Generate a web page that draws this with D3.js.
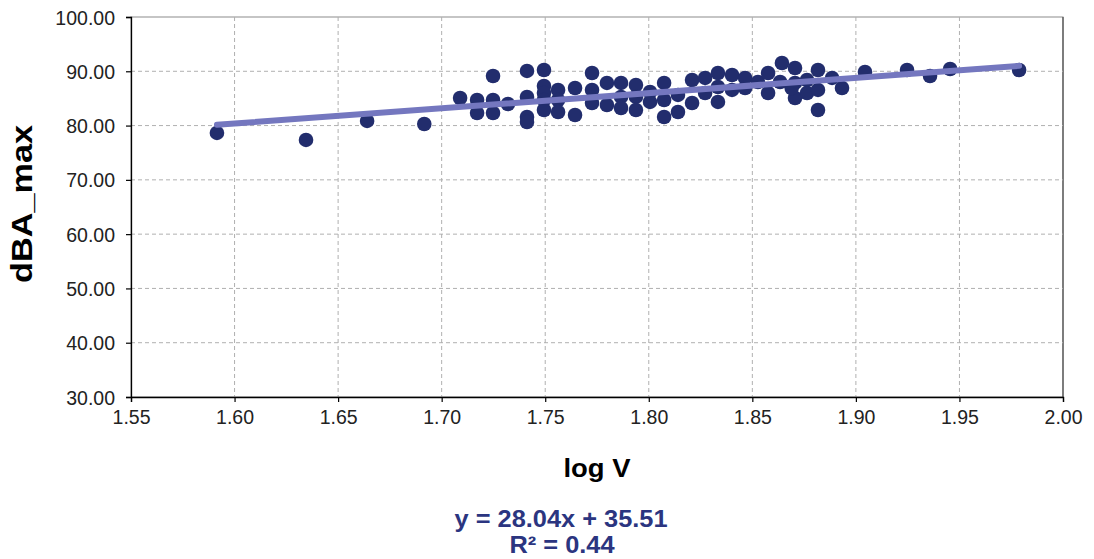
<!DOCTYPE html>
<html>
<head>
<meta charset="utf-8">
<script src="https://cdn.jsdelivr.net/npm/d3@7/dist/d3.min.js"></script>
<style>
  html, body { margin: 0; padding: 0; background: #fff; }
  svg { display: block; }
</style>
</head>
<body>
<svg id="chart" width="1094" height="559"></svg>
<script>
// ---- data ----
const logV = [
  1.5915, 1.6345, 1.6640, 1.6916, 1.7089, 1.7171, 1.7171, 1.7248, 1.7248, 1.7248,
  1.7320, 1.7412, 1.7412, 1.7412, 1.7412, 1.7494, 1.7494, 1.7494, 1.7494, 1.7494,
  1.7562, 1.7562, 1.7562, 1.7644, 1.7644, 1.7726, 1.7726, 1.7726, 1.7798, 1.7798,
  1.7866, 1.7866, 1.7866, 1.7938, 1.7938, 1.7938, 1.8006, 1.8006, 1.8074, 1.8074,
  1.8074, 1.8141, 1.8141, 1.8209, 1.8209, 1.8272, 1.8272, 1.8334, 1.8334, 1.8334,
  1.8402, 1.8402, 1.8465, 1.8465, 1.8527, 1.8576, 1.8576, 1.8643, 1.8706, 1.8706,
  1.8706, 1.8764, 1.8764, 1.8817, 1.8817, 1.8817, 1.8885, 1.8933, 1.9044, 1.9247,
  1.9358, 1.9455, 1.9788, 1.8634, 1.8690
];
const dBAmax = [
  78.64, 77.35, 80.85, 80.29, 85.08, 84.71, 82.32, 89.13, 84.71, 82.32,
  83.98, 90.06, 85.27, 81.58, 80.66, 90.24, 87.29, 86.00, 84.71, 82.87,
  86.56, 84.71, 82.50, 86.92, 81.95, 89.69, 86.56, 84.16, 87.85, 83.79,
  87.85, 85.27, 83.24, 87.48, 85.27, 82.87, 86.19, 84.35, 87.85, 84.71,
  81.58, 85.64, 82.50, 88.40, 84.16, 88.77, 86.00, 89.69, 87.11, 84.35,
  89.32, 86.56, 88.77, 86.92, 88.03, 89.69, 86.00, 91.53, 90.61, 87.85,
  85.08, 88.40, 86.00, 90.24, 86.56, 82.87, 88.77, 86.92, 89.87, 90.24,
  89.13, 90.42, 90.24, 88.03, 86.90
];
const xTicks = [1.55, 1.60, 1.65, 1.70, 1.75, 1.80, 1.85, 1.90, 1.95, 2.00];
const yTicks = [30, 40, 50, 60, 70, 80, 90, 100];
const trendSlope = 28.04;
const trendIntercept = 35.51;
const rSquared = 0.44;

// ---- layout ----
const svg = d3.select("#chart");
const L = 131, R = 1063, T = 17, B = 397;
const x = d3.scaleLinear().domain([1.55, 2.00]).range([L, R]);
const y = d3.scaleLinear().domain([30, 100]).range([B, T]);
const font = "Liberation Sans, Arial, sans-serif";

// plot border
svg.append("rect")
  .attr("x", L).attr("y", T).attr("width", R - L).attr("height", B - T)
  .attr("fill", "none").attr("stroke", "#8c8c8c").attr("stroke-width", 1);
svg.append("line").attr("x1", R).attr("x2", R).attr("y1", T).attr("y2", B)
  .attr("stroke", "#555").attr("stroke-width", 1.3);

// gridlines
const grid = svg.append("g").attr("stroke", "#b0b0b0").attr("stroke-width", 1)
  .attr("stroke-dasharray", "4,3");
grid.selectAll("line.v").data(xTicks.filter(t => t > 1.55 && t < 2.0)).join("line")
  .attr("class", "v")
  .attr("x1", d => x(d)).attr("x2", d => x(d)).attr("y1", T).attr("y2", B);
grid.selectAll("line.h").data(yTicks.filter(t => t > 30 && t < 100)).join("line")
  .attr("class", "h")
  .attr("x1", L).attr("x2", R).attr("y1", d => y(d)).attr("y2", d => y(d));

// axes
const xAxis = d3.axisBottom(x).tickValues(xTicks).tickFormat(d3.format(".2f"))
  .tickSize(5).tickPadding(8);
const yAxis = d3.axisLeft(y).tickValues(yTicks).tickFormat(d3.format(".2f"))
  .tickSize(5).tickPadding(11);
const gx = svg.append("g").attr("transform", `translate(0,${B})`).call(xAxis);
const gy = svg.append("g").attr("transform", `translate(${L},0)`).call(yAxis);
[gx, gy].forEach(g => {
  g.select(".domain").attr("stroke", "#000").attr("stroke-width", 1.3);
  g.selectAll(".tick line").attr("stroke", "#000").attr("stroke-width", 1.2);
  g.selectAll(".tick text").attr("fill", "#222")
    .style("font-family", font).style("font-size", "19.5px");
});
gy.selectAll(".tick text").attr("dy", "0.36em");

// points
svg.append("g").selectAll("circle").data(logV.map((v, i) => [v, dBAmax[i]])).join("circle")
  .attr("cx", d => x(d[0])).attr("cy", d => y(d[1])).attr("r", 7.3)
  .attr("fill", "#222d6d");

// trendline
const xMin = d3.min(logV), xMax = d3.max(logV);
svg.append("line")
  .attr("x1", x(xMin)).attr("y1", y(trendSlope * xMin + trendIntercept))
  .attr("x2", x(xMax)).attr("y2", y(trendSlope * xMax + trendIntercept))
  .attr("stroke", "#7477bf").attr("stroke-width", 6).attr("stroke-linecap", "round");

// labels
svg.append("text").attr("x", 597).attr("y", 477).attr("text-anchor", "middle")
  .style("font-family", font).style("font-weight", "bold").style("font-size", "25px")
  .attr("textLength", 67).attr("lengthAdjust", "spacingAndGlyphs")
  .attr("fill", "#000").text("log V");
svg.append("text").attr("transform", "translate(32,204) rotate(-90)").attr("text-anchor", "middle")
  .style("font-family", font).style("font-weight", "bold").style("font-size", "30px")
  .attr("textLength", 158).attr("lengthAdjust", "spacingAndGlyphs")
  .attr("fill", "#000").text("dBA_max");
svg.append("text").attr("x", 561).attr("y", 527).attr("text-anchor", "middle")
  .style("font-family", font).style("font-weight", "bold").style("font-size", "24px")
  .attr("textLength", 213).attr("lengthAdjust", "spacingAndGlyphs")
  .attr("fill", "#2b3580").text(`y = ${trendSlope.toFixed(2)}x + ${trendIntercept.toFixed(2)}`);
svg.append("text").attr("x", 562).attr("y", 553).attr("text-anchor", "middle")
  .style("font-family", font).style("font-weight", "bold").style("font-size", "24px")
  .attr("textLength", 105).attr("lengthAdjust", "spacingAndGlyphs")
  .attr("fill", "#2b3580").text(`R² = ${rSquared.toFixed(2)}`);
</script>
</body>
</html>
